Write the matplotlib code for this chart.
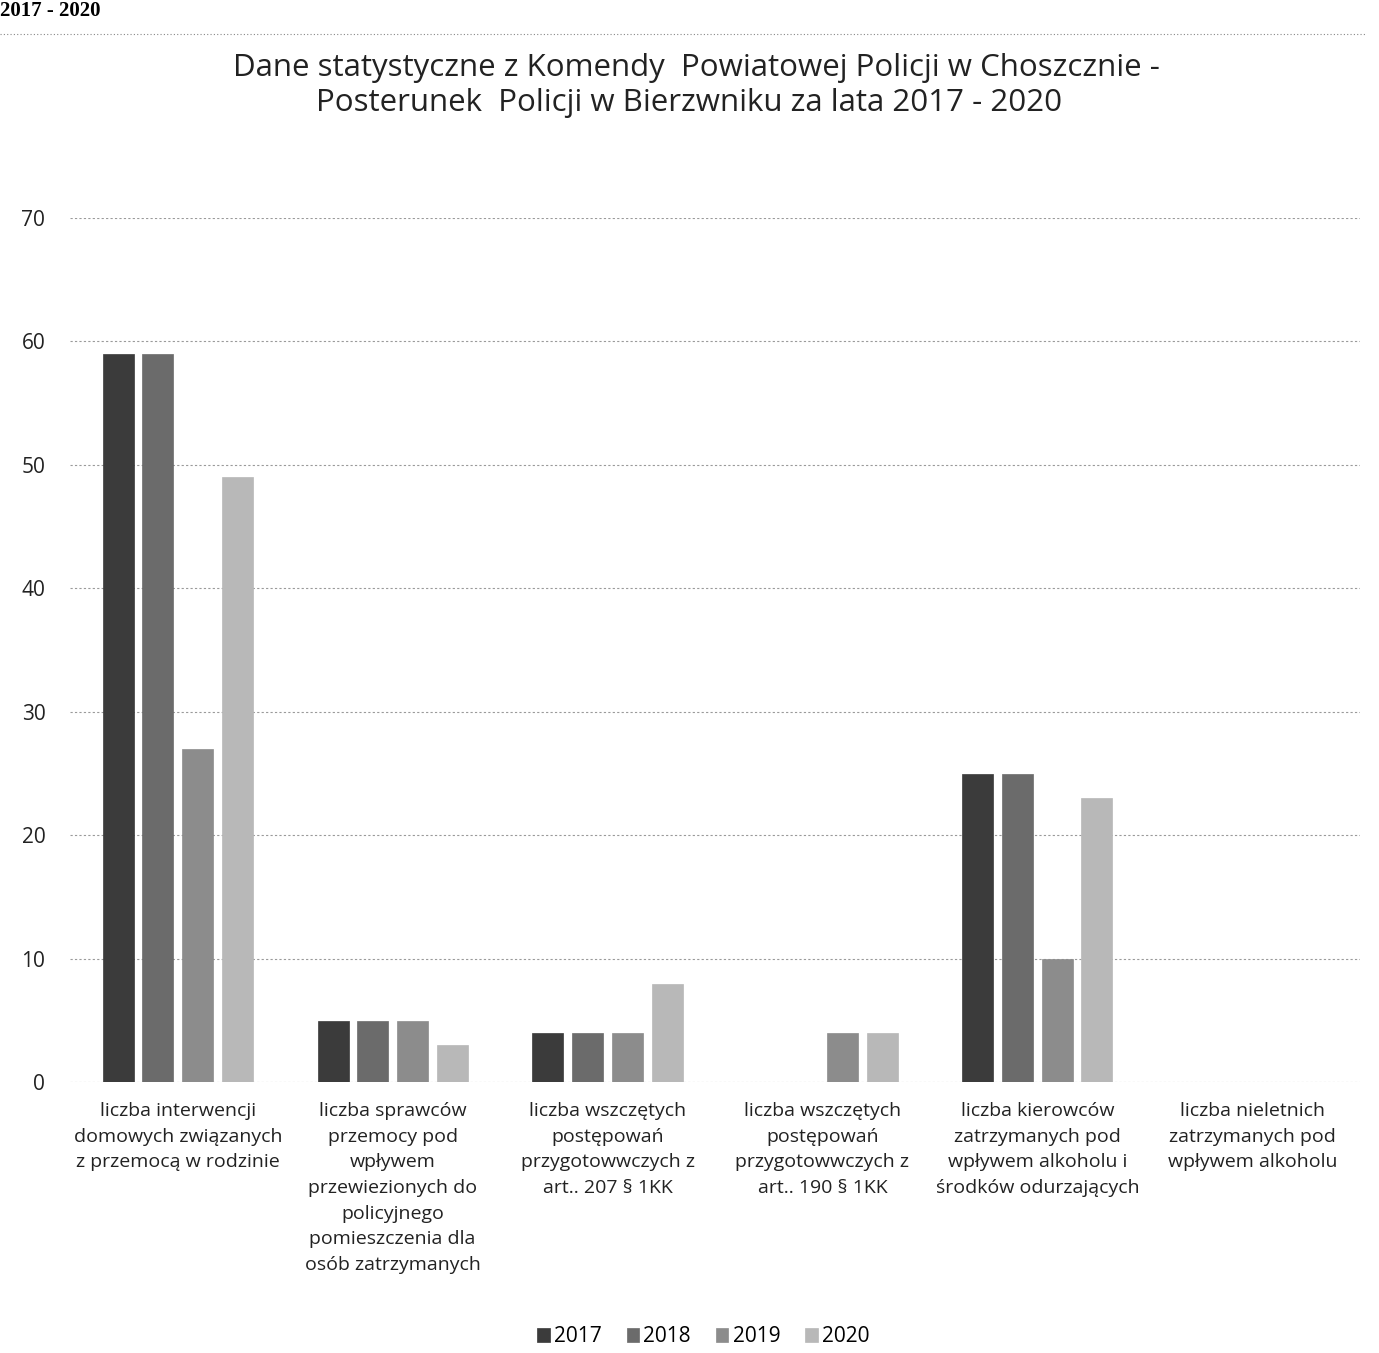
import matplotlib.pyplot as plt
import numpy as np

# data
categories = [
    "liczba interwencji\ndomowych związanych\nz przemocą w rodzinie",
    "liczba sprawców\nprzemocy pod\nwpływem\nprzewiezionych do\npolicyjnego\npomieszczenia dla\nosób zatrzymanych",
    "liczba wszczętych\npostępowań\nprzygotowwczych z\nart.. 207 § 1KK",
    "liczba wszczętych\npostępowań\nprzygotowwczych z\nart.. 190 § 1KK",
    "liczba kierowców\nzatrzymanych pod\nwpływem alkoholu i\nśrodków odurzających",
    "liczba nieletnich\nzatrzymanych pod\nwpływem alkoholu",
]
years = ["2017", "2018", "2019", "2020"]
v2017 = [59, 5, 4, 0, 25, 0]
v2018 = [59, 5, 4, 0, 25, 0]
v2019 = [27, 5, 4, 4, 10, 0]
v2020 = [49, 3, 8, 4, 23, 0]
colors = ["#3b3b3b", "#6b6b6b", "#8c8c8c", "#b8b8b8"]

plt.rcParams['font.family'] = ['Open Sans', 'DejaVu Sans']

fig = plt.figure(figsize=(13.79, 13.53), dpi=100)
ax = fig.add_axes([0.051, 0.200, 0.935, 0.639])

x = np.arange(len(categories))
w = 0.185
series = [v2017, v2018, v2019, v2020]
for i, (vals, c, yr) in enumerate(zip(series, colors, years)):
    ax.bar(x + (i - 1.5) * w, vals, width=w * 0.78, color=c, label=yr,
           edgecolor=c, linewidth=0.5, zorder=3)

ax.set_xlim(-0.5, len(categories) - 0.5)
ax.set_ylim(0, 70)
ax.set_yticks(range(0, 71, 10))
ax.yaxis.grid(True, color="#9a9a9a", linestyle=(0, (2, 2)), linewidth=0.8)
ax.set_axisbelow(True)
for s in ax.spines.values():
    s.set_visible(False)
ax.tick_params(axis='y', length=0, labelsize=15, pad=18, colors="#222222")
ax.tick_params(axis='x', length=0, pad=14)
ax.set_xticks(x)
ax.set_xticklabels(categories, fontsize=14, linespacing=1.55, color="#222222")

fig.text(0.505, 0.950, "Dane statystyczne z Komendy  Powiatowej Policji w Choszcznie -",
         ha='center', va='center', fontsize=22.5, color="#222222")
fig.text(0.5, 0.924, "Posterunek  Policji w Bierzwniku za lata 2017 - 2020",
         ha='center', va='center', fontsize=22.5, color="#222222")

# header of the scanned page
fig.text(0.0, 0.999, "2017 - 2020", ha='left', va='top', fontsize=15,
         fontweight='bold', family='Liberation Serif')
fig.add_artist(plt.Line2D([0.0, 0.99], [0.975, 0.975], color="#888888",
                          linestyle=(0, (1, 2)), linewidth=0.8))

fig.legend(loc='center', bbox_to_anchor=(0.51, 0.012), ncol=4, frameon=False,
           fontsize=15, handlelength=0.6, handleheight=0.6, columnspacing=1.2,
           handletextpad=0.2)

fig.savefig("out.png", dpi=100)
